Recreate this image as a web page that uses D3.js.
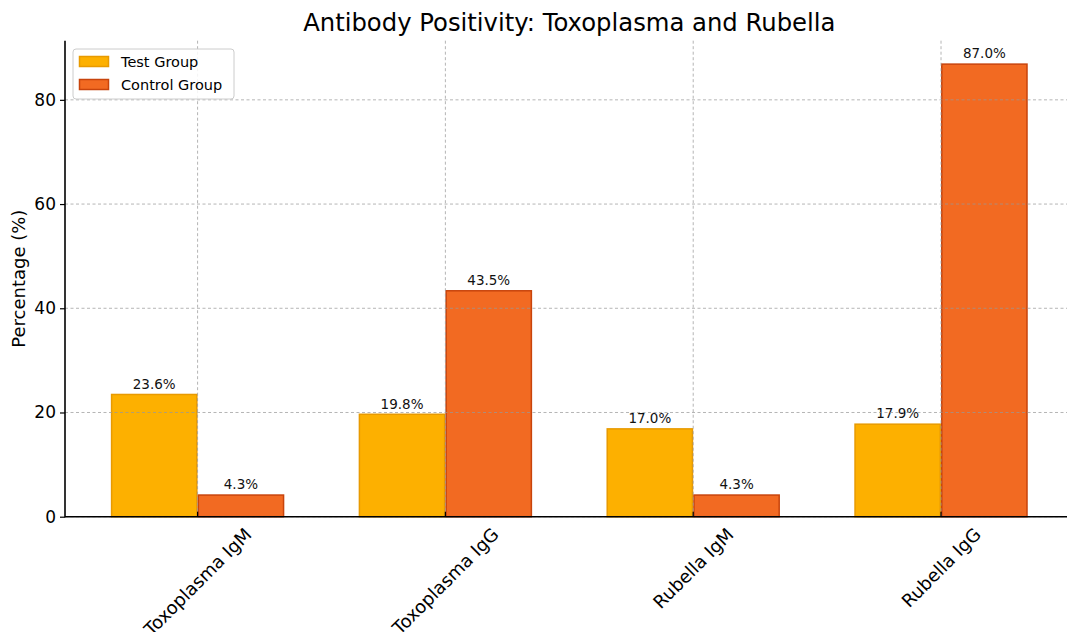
<!DOCTYPE html>
<html><head><meta charset="utf-8">
<script src="https://cdn.jsdelivr.net/npm/d3@7"></script>
<style>body{margin:0;background:#fff}svg{display:block;font-family:"DejaVu Sans",sans-serif}</style>
</head><body><svg id="c" width="1067" height="632"></svg>
<script>
const categories = ["Toxoplasma IgM", "Toxoplasma IgG", "Rubella IgM", "Rubella IgG"];
const seriesNames = ["Test Group", "Control Group"];
const testValues = [23.6, 19.8, 17.0, 17.9];
const controlValues = [4.3, 43.5, 4.3, 87.0];
const yTicks = [0, 20, 40, 60, 80];
const title = "Antibody Positivity: Toxoplasma and Rubella";
const yLabel = "Percentage (%)";

const fills = ["#FDB000", "#F26A22"];
const strokes = ["#E89A00", "#C8440C"];

const svg = d3.select("#c");
const L = 65, R = 1073.6, T = 40.7, B = 516.7;
const barW = 0.35;
const x = d3.scaleLinear().domain([-0.535, 3.535]).range([L, R]);
const y = d3.scaleLinear().domain([0, 91.35]).range([B, T]);

svg.append("text").attr("x", (L + R) / 2).attr("y", 31).attr("text-anchor", "middle")
  .attr("font-size", 24.3).attr("fill", "#000").text(title);

const series = [testValues, controlValues];
const g = svg.append("g");
series.forEach((vals, si) => {
  const off = si === 0 ? -barW / 2 : barW / 2;
  g.selectAll(".b" + si).data(vals).enter().append("rect")
    .attr("x", (d, i) => x(i + off - barW / 2) + 0.75)
    .attr("width", x(barW) - x(0) - 1.5)
    .attr("y", d => y(d) + 0.75)
    .attr("height", d => y(0) - y(d) - 0.75)
    .attr("fill", fills[si]).attr("stroke", strokes[si]).attr("stroke-width", 1.5);
  g.selectAll(".t" + si).data(vals).enter().append("text")
    .attr("x", (d, i) => x(i + off))
    .attr("y", d => y(d) - 5)
    .attr("text-anchor", "middle").attr("font-size", 13.5).attr("fill", "#111")
    .text(d => d.toFixed(1) + "%");
});

// grid
const grid = svg.append("g").attr("stroke", "#999").attr("stroke-width", 0.9)
  .attr("stroke-dasharray", "3,2.5").attr("opacity", 0.8);
yTicks.forEach(t => grid.append("line").attr("x1", L).attr("x2", R).attr("y1", y(t)).attr("y2", y(t)));
categories.forEach((c, i) => grid.append("line").attr("x1", x(i)).attr("x2", x(i)).attr("y1", T).attr("y2", B));

// axes
const yAxis = d3.axisLeft(y).tickValues(yTicks).tickSize(5).tickPadding(4).tickFormat(d3.format("d"));
const ya = svg.append("g").attr("transform", `translate(${L},0)`).call(yAxis);
ya.select(".domain").remove();
ya.selectAll("text").attr("font-size", 17).attr("font-family", "DejaVu Sans").attr("fill", "#000");
ya.selectAll("line").attr("stroke", "#000").attr("stroke-width", 1.2);

svg.append("line").attr("x1", L).attr("x2", L).attr("y1", T).attr("y2", B + 0.6).attr("stroke", "#000").attr("stroke-width", 1.6);
svg.append("line").attr("x1", L).attr("x2", R).attr("y1", B).attr("y2", B).attr("stroke", "#000").attr("stroke-width", 1.6);

categories.forEach((c, i) => {
  svg.append("line").attr("x1", x(i)).attr("x2", x(i)).attr("y1", B).attr("y2", B - 5).attr("stroke", "#000").attr("stroke-width", 1.2);
  const t = svg.append("text").attr("font-size", 18).attr("fill", "#000")
    .attr("text-anchor", "middle").attr("dominant-baseline", "central").text(c);
  const w = t.node().getComputedTextLength();
  const h = 18;
  const cy = B + 8 + (w + h) * Math.SQRT1_2 / 2;
  t.attr("transform", `translate(${x(i)},${cy}) rotate(-45)`);
});

svg.append("text").attr("transform", `translate(25,${(T + B) / 2}) rotate(-90)`)
  .attr("text-anchor", "middle").attr("font-size", 18).attr("fill", "#000").text(yLabel);

// legend
const lg = svg.append("g");
lg.append("rect").attr("x", 73).attr("y", 49).attr("width", 161).attr("height", 50).attr("rx", 3)
  .attr("fill", "#fff").attr("fill-opacity", 0.85).attr("stroke", "#ccc").attr("stroke-width", 1);
seriesNames.forEach((n, i) => {
  lg.append("rect").attr("x", 79.5).attr("y", 56.5 + i * 23).attr("width", 29).attr("height", 10)
    .attr("fill", fills[i]).attr("stroke", strokes[i]).attr("stroke-width", 1.5);
  lg.append("text").attr("x", 121).attr("y", 67 + i * 23).attr("font-size", 14.5).attr("fill", "#000").text(n);
});
</script></body></html>
